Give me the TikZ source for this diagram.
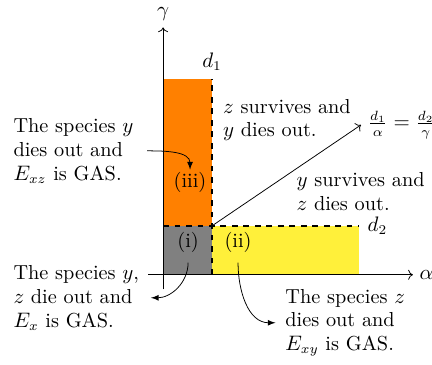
\documentclass[tikz,border=0pt]{standalone}
\usepackage{amsmath}
\usepackage{amssymb}
\usepackage{tikz}
\usetikzlibrary{arrows.meta,positioning,calc}
\definecolor{regyellow}{RGB}{255,240,58}
\definecolor{regorange}{RGB}{255,128,0}

\begin{document}
\begin{tikzpicture}[x=0.9cm, y=0.9cm,
    every node/.style={font=\fontsize{10.6pt}{12.5pt}\selectfont},
    axis/.style={->},
    border/.style={dashed, thick},
    note/.style={align=left, inner sep=1pt},
    pointer/.style={-latex}
]
\useasboundingbox (-3.33,-1.84) rectangle (5.49,5.61);
% regions
\fill[regorange] (0,1) rectangle (1,4);
\fill[gray] (0,0) rectangle (1,1);
\fill[regyellow] (1,0) rectangle (4,1);
\coordinate (corner) at (1,1);
\coordinate (top) at (1,4);
\coordinate (right) at (4,1);
\draw[border] (1,0) -- (top);
\draw[border] (0,1) -- (right);
% axes
\draw[axis] (-0.3,0) -- (5.1,0) node[right] (alpha) {$\alpha$};
\draw[axis] (0,-0.3) -- (0,5.05) node[above] (gamma) {$\gamma$};
\node[above=1pt of top] (done) {$d_1$};
\node[right=1pt of right] (dtwo) {$d_2$};
% ratio line
\coordinate (tip) at (4.04,3.06);
\draw[->] (corner) -- (tip);
\node[right=0pt of tip] (ratio) {$\frac{d_1}{\alpha}=\frac{d_2}{\gamma}$};
% region labels
\node (iii) at (0.55,1.88) {(iii)};
\node (i) at (0.51,0.67) {(i)};
\node (ii) at (1.53,0.67) {(ii)};
\node[note, anchor=west] (zsurv) at (1.18,3.16) {$z$ survives and\\$y$ dies out.};
\node[note, anchor=west] (ysurv) at (2.68,1.69) {$y$ survives and\\$z$ dies out.};
% explanations
\node[note, anchor=west] (notey) at (-3.1,2.53) {The species $y$\\dies out and\\$E_{xz}$ is GAS.};
\node[note, anchor=west] (notex) at (-3.1,-0.47) {The species $y$,\\$z$ die out and\\$E_x$ is GAS.};
\node[note, anchor=west] (notez) at (2.45,-0.98) {The species $z$\\dies out and\\$E_{xy}$ is GAS.};
\draw[pointer] ([xshift=6pt]notey.east) to[out=0, in=90] ([yshift=-2pt]iii.north);
\draw[pointer] ([yshift=-2pt]i.south) to[out=-90, in=0] ([xshift=5pt]notex.east);
\draw[pointer] ([yshift=-2pt]ii.south) to[out=-90, in=180] ([xshift=-4pt]notez.west);
\end{tikzpicture}
\end{document}
